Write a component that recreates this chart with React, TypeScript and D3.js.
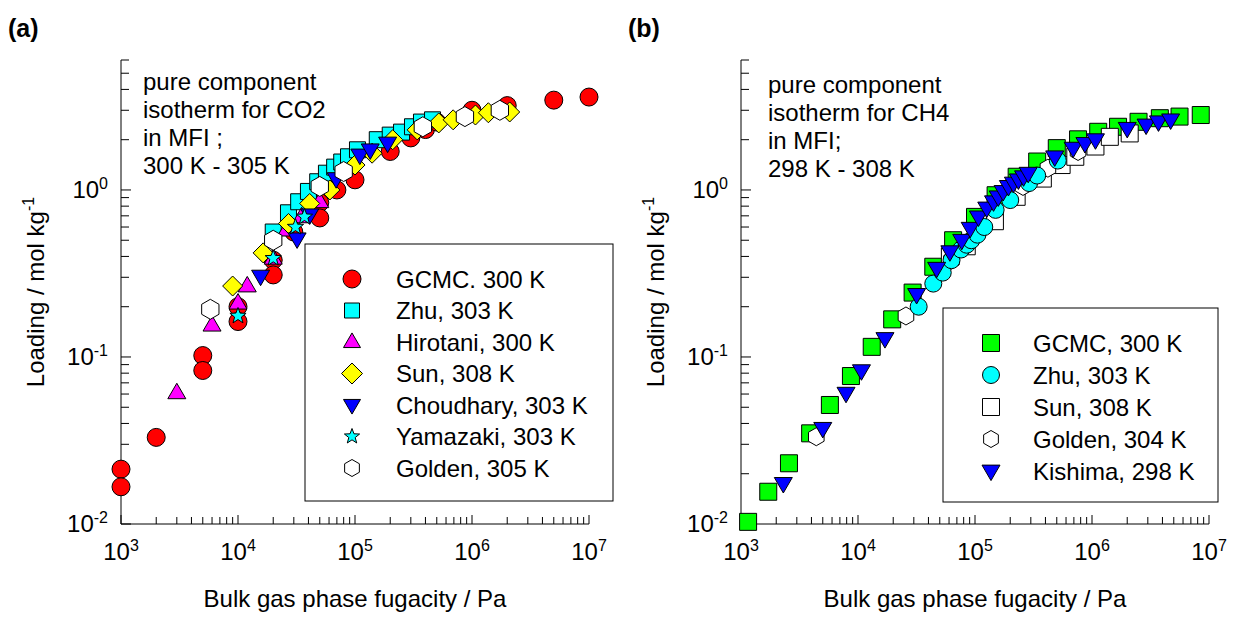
import React from "react";
import * as d3 from "d3";

// ---------- DATA ----------
// Panel (a): CO2 in MFI  [fugacity Pa, loading mol/kg]
const co2GCMC: [number, number][] = [
  [1e3, 0.0213], [1e3, 0.0167], [2e3, 0.033], [5e3, 0.102], [5e3, 0.083],
  [1e4, 0.2], [1e4, 0.163], [2e4, 0.38], [2e4, 0.31], [3e4, 0.56],
  [5e4, 0.84], [5e4, 0.68], [7e4, 1.0], [1e5, 1.15], [2e5, 1.7],
  [3e5, 2.05], [4e5, 2.3], [5e5, 2.55], [1e6, 3.0], [2e6, 3.2],
  [5e6, 3.45], [1e7, 3.6],
];
const co2Zhu: [number, number][] = [
  [2e4, 0.56], [2.7e4, 0.73], [3.3e4, 0.85], [4e4, 0.98], [4.8e4, 1.12],
  [5.7e4, 1.26], [6.7e4, 1.37], [7.7e4, 1.47], [8.8e4, 1.58], [1.05e5, 1.74],
  [1.55e5, 2.0], [2e5, 2.13], [2.5e5, 2.22], [3.1e5, 2.39], [3.7e5, 2.55],
  [4.6e5, 2.63],
];
const co2Hirotani: [number, number][] = [
  [3e3, 0.061], [6e3, 0.155], [1e4, 0.21], [1.2e4, 0.266], [2e4, 0.39],
  [2.6e4, 0.575], [3.5e4, 0.69], [5e4, 0.85],
];
const co2Sun: [number, number][] = [
  [9e3, 0.266], [1.64e4, 0.42], [2.7e4, 0.63], [4.1e4, 0.83], [6.1e4, 1.0],
  [1e5, 1.41], [1.4e5, 1.66], [2.1e5, 2.0], [3.4e5, 2.29], [5.2e5, 2.52],
  [6.9e5, 2.63], [1.07e6, 2.81], [1.38e6, 2.9], [2.1e6, 2.93],
];
const co2Choudhary: [number, number][] = [
  [1.56e4, 0.305], [3.2e4, 0.51], [4.1e4, 0.71], [6.9e4, 1.17],
  [1.1e5, 1.62], [1.35e5, 1.74], [1.9e5, 1.91],
];
const co2Yamazaki: [number, number][] = [
  [1e4, 0.176], [2e4, 0.39], [3.1e4, 0.6], [3.7e4, 0.69],
];
const co2Golden: [number, number][] = [
  [5.8e3, 0.193], [2e4, 0.5], [5e4, 1.05], [8e4, 1.29], [3.8e5, 2.39],
  [8.7e5, 2.75], [1.73e6, 3.0],
];

// Panel (b): CH4 in MFI
const ch4GCMC: [number, number][] = [
  [1.15e3, 0.0103], [1.71e3, 0.0156], [2.57e3, 0.0231], [3.9e3, 0.0349],
  [5.75e3, 0.0516], [8.7e3, 0.0769], [1.31e4, 0.115], [1.96e4, 0.168],
  [2.93e4, 0.243], [4.4e4, 0.347], [6.5e4, 0.5], [1e5, 0.69], [1.5e5, 0.93],
  [2.27e5, 1.2], [3.4e5, 1.48], [5e5, 1.78], [7.6e5, 2.01], [1.13e6, 2.23],
  [1.67e6, 2.39], [2.5e6, 2.56], [3.8e6, 2.69], [5.6e6, 2.75], [8.5e6, 2.81],
];
const ch4Zhu: [number, number][] = [
  [3.3e4, 0.2], [4.4e4, 0.275], [5.3e4, 0.32], [6.3e4, 0.38], [7.6e4, 0.44],
  [8.5e4, 0.47], [9.3e4, 0.5], [1.05e5, 0.54], [1.2e5, 0.6], [1.5e5, 0.76],
  [2.0e5, 0.87], [2.9e5, 1.1], [3.4e5, 1.22], [5.1e5, 1.5],
];
const ch4Sun: [number, number][] = [
  [6.1e4, 0.4], [8.5e4, 0.46], [1.48e5, 0.65], [2.27e5, 0.91], [3.8e5, 1.17],
  [5.5e5, 1.41], [7.2e5, 1.58], [1.07e6, 1.82], [1.42e6, 2.08], [2.1e6, 2.18],
];
const ch4Golden: [number, number][] = [
  [4.4e3, 0.0333], [2.57e4, 0.176], [6.3e4, 0.38], [1.07e5, 0.575],
  [2.57e5, 1.05], [4.2e5, 1.35], [7.6e5, 1.7],
];
const ch4Kishima: [number, number][] = [
  [2.3e3, 0.0175], [5e3, 0.0374], [7.9e3, 0.0607], [1.07e4, 0.0828],
  [1.7e4, 0.129], [3.17e4, 0.237], [4.7e4, 0.34], [6.1e4, 0.427],
  [7.7e4, 0.5], [9.1e4, 0.59], [1.07e5, 0.69], [1.26e5, 0.78],
  [1.44e5, 0.85], [1.58e5, 0.91], [1.74e5, 0.98], [1.93e5, 1.05],
  [2.13e5, 1.1], [2.35e5, 1.15], [2.6e5, 1.2], [2.85e5, 1.26],
  [4.8e5, 1.58], [6.9e5, 1.78], [8.7e5, 1.9], [1.07e6, 2.0],
  [2.0e6, 2.34], [2.9e6, 2.45], [3.7e6, 2.56], [4.7e6, 2.63],
];

const co2Labels = ["GCMC. 300 K", "Zhu, 303 K", "Hirotani, 300 K", "Sun, 308 K", "Choudhary, 303 K", "Yamazaki, 303 K", "Golden, 305 K"];
const ch4Labels = ["GCMC, 300 K", "Zhu, 303 K", "Sun, 308 K", "Golden, 304 K", "Kishima, 298 K"];
const co2Note = ["pure component", "isotherm for CO2", "in MFI ;", "300 K - 305 K"];
const ch4Note = ["pure component", "isotherm for CH4", "in MFI;", "298 K - 308 K"];
const xDomain: [number, number] = [1e3, 1e7];
const yDomain: [number, number] = [0.01, 6];
const xTitle = "Bulk gas phase fugacity / Pa";
const yTitle = "Loading / mol kg";

// ---------- SHAPES ----------
type Shape = "circle" | "square" | "triUp" | "triDown" | "diamond" | "hex" | "star";
function shapePath(shape: Shape, s: number): string {
  const h = s / 2;
  switch (shape) {
    case "circle":
      return `M${h},0A${h},${h} 0 1,1 ${-h},0A${h},${h} 0 1,1 ${h},0Z`;
    case "square":
      return `M${-h},${-h}H${h}V${h}H${-h}Z`;
    case "triUp": {
      const th = s * 0.86;
      return `M0,${-th * 0.62}L${h},${th * 0.38}L${-h},${th * 0.38}Z`;
    }
    case "triDown": {
      const th = s * 0.86;
      return `M0,${th * 0.62}L${h},${-th * 0.38}L${-h},${-th * 0.38}Z`;
    }
    case "diamond":
      return `M0,${-h}L${h},0L0,${h}L${-h},0Z`;
    case "hex": {
      const pts = d3.range(6).map((i) => {
        const a = (Math.PI / 3) * i - Math.PI / 2;
        return [h * Math.cos(a), h * Math.sin(a)];
      });
      return "M" + pts.map((p) => p.join(",")).join("L") + "Z";
    }
    case "star": {
      const pts = d3.range(10).map((i) => {
        const r = i % 2 === 0 ? h : h * 0.42;
        const a = (Math.PI / 5) * i - Math.PI / 2;
        return [r * Math.cos(a), r * Math.sin(a)];
      });
      return "M" + pts.map((p) => p.join(",")).join("L") + "Z";
    }
  }
}

interface Series {
  data: [number, number][];
  shape: Shape;
  fill: string;
  size: number;
  legendSize: number;
}

const FONT = "'Liberation Sans', Arial, Helvetica, sans-serif";

function Panel(props: {
  ox: number;
  tag: string;
  series: Series[];
  legendOrder: number[];
  labels: string[];
  note: string[];
  noteX: number;
  noteY: number;
  legendBox: [number, number, number, number];
  legendRowY: number;
  legendStep: number;
  legendMarkerX: number;
  legendTextX: number;
}) {
  const { ox } = props;
  const x = d3.scaleLog().domain(xDomain).range([121 + ox, 589 + ox]);
  const y = d3.scaleLog().domain(yDomain).range([524, 60]);
  const xt = x.ticks();
  const yt = y.ticks();
  const isMajor = (v: number) => Math.abs(Math.log10(v) - Math.round(Math.log10(v))) < 1e-9;
  const [bx, by, bw, bh] = props.legendBox;
  const x0 = x.range()[0];
  const y0 = y.range()[0];
  return (
    <g fontFamily={FONT}>
      <text x={8 + ox} y={37} fontSize={25} fontWeight="bold">{props.tag}</text>
      {/* axes */}
      <line x1={x0} x2={x.range()[1]} y1={y0} y2={y0} stroke="#000" strokeWidth={1} />
      <line x1={x0} x2={x0} y1={y0} y2={y.range()[1]} stroke="#000" strokeWidth={1} />
      {xt.map((v, i) => (
        <line key={"xt" + i} x1={x(v)} x2={x(v)} y1={y0} y2={y0 - (isMajor(v) ? 9 : 7)} stroke="#000" strokeWidth={1} />
      ))}
      {yt.map((v, i) => (
        <line key={"yt" + i} x1={x0} x2={x0 + (isMajor(v) ? 10 : 8)} y1={y(v)} y2={y(v)} stroke="#000" strokeWidth={1} />
      ))}
      {xt.filter(isMajor).map((v, i) => (
        <text key={"xl" + i} x={x(v)} y={560} fontSize={24} textAnchor="middle">
          10<tspan fontSize={16} dy={-9}>{Math.round(Math.log10(v))}</tspan>
        </text>
      ))}
      {yt.filter(isMajor).map((v, i) => (
        <text key={"yl" + i} x={x0 - 13} y={y(v) + 8} fontSize={24} textAnchor="end">
          10<tspan fontSize={16} dy={-9}>{Math.round(Math.log10(v))}</tspan>
        </text>
      ))}
      <text x={(x.range()[0] + x.range()[1]) / 2} y={607} fontSize={24} textAnchor="middle">{xTitle}</text>
      <text transform={`translate(${44 + ox},292) rotate(-90)`} fontSize={24} textAnchor="middle">
        {yTitle}<tspan fontSize={16} dy={-10}>-1</tspan>
      </text>
      {/* annotation */}
      {props.note.map((t, i) => (
        <text key={"n" + i} x={props.noteX} y={props.noteY + i * 28} fontSize={24}>{t}</text>
      ))}
      {/* data */}
      {props.series.map((s, si) => (
        <g key={"s" + si}>
          {s.data.map((d, i) => (
            <path key={i} d={shapePath(s.shape, s.size)} transform={`translate(${x(d[0])},${y(d[1])})`} fill={s.fill} stroke="#000" strokeWidth={1} />
          ))}
        </g>
      ))}
      {/* legend */}
      <rect x={bx} y={by} width={bw} height={bh} fill="#fff" stroke="#000" strokeWidth={1} />
      {props.legendOrder.map((idx, i) => {
        const s = props.series[idx];
        const cy = props.legendRowY + i * props.legendStep;
        return (
          <g key={"l" + i}>
            <path d={shapePath(s.shape, s.legendSize)} transform={`translate(${props.legendMarkerX},${cy})`} fill={s.fill} stroke="#000" strokeWidth={1} />
            <text x={props.legendTextX} y={cy + 8.5} fontSize={24}>{props.labels[i]}</text>
          </g>
        );
      })}
    </g>
  );
}

export default function App() {
  const co2Series: Series[] = [
    { data: co2GCMC, shape: "circle", fill: "#ff0000", size: 18, legendSize: 18 },
    { data: co2Zhu, shape: "square", fill: "#00ffff", size: 16, legendSize: 15 },
    { data: co2Hirotani, shape: "triUp", fill: "#ff00ff", size: 18, legendSize: 17 },
    { data: co2Sun, shape: "diamond", fill: "#ffff00", size: 20, legendSize: 21 },
    { data: co2Choudhary, shape: "triDown", fill: "#0000ff", size: 18, legendSize: 17 },
    { data: co2Yamazaki, shape: "star", fill: "#00ffff", size: 17, legendSize: 16 },
    { data: co2Golden, shape: "hex", fill: "#ffffff", size: 20, legendSize: 17 },
  ];
  const ch4Series: Series[] = [
    { data: ch4GCMC, shape: "square", fill: "#00ff00", size: 17, legendSize: 17 },
    { data: ch4Sun, shape: "square", fill: "#ffffff", size: 17, legendSize: 17 },
    { data: ch4Golden, shape: "hex", fill: "#ffffff", size: 18, legendSize: 17 },
    { data: ch4Zhu, shape: "circle", fill: "#00ffff", size: 17, legendSize: 17 },
    { data: ch4Kishima, shape: "triDown", fill: "#0000ff", size: 18, legendSize: 18 },
  ];
  return (
    <svg width={1233} height={621} style={{ position: "absolute", left: 0, top: 0, background: "#fff" }}>
      <rect width={1233} height={621} fill="#fff" />
      <Panel
        ox={0}
        tag="(a)"
        series={co2Series}
        legendOrder={[0, 1, 2, 3, 4, 5, 6]}
        labels={co2Labels}
        note={co2Note}
        noteX={143}
        noteY={90}
        legendBox={[305, 244, 308, 257]}
        legendRowY={279}
        legendStep={31.5}
        legendMarkerX={352}
        legendTextX={396}
      />
      <Panel
        ox={620}
        tag="(b)"
        series={ch4Series}
        legendOrder={[0, 3, 1, 2, 4]}
        labels={ch4Labels}
        note={ch4Note}
        noteX={768}
        noteY={93}
        legendBox={[943, 308, 275, 194]}
        legendRowY={343}
        legendStep={32}
        legendMarkerX={991}
        legendTextX={1033}
      />
    </svg>
  );
}
